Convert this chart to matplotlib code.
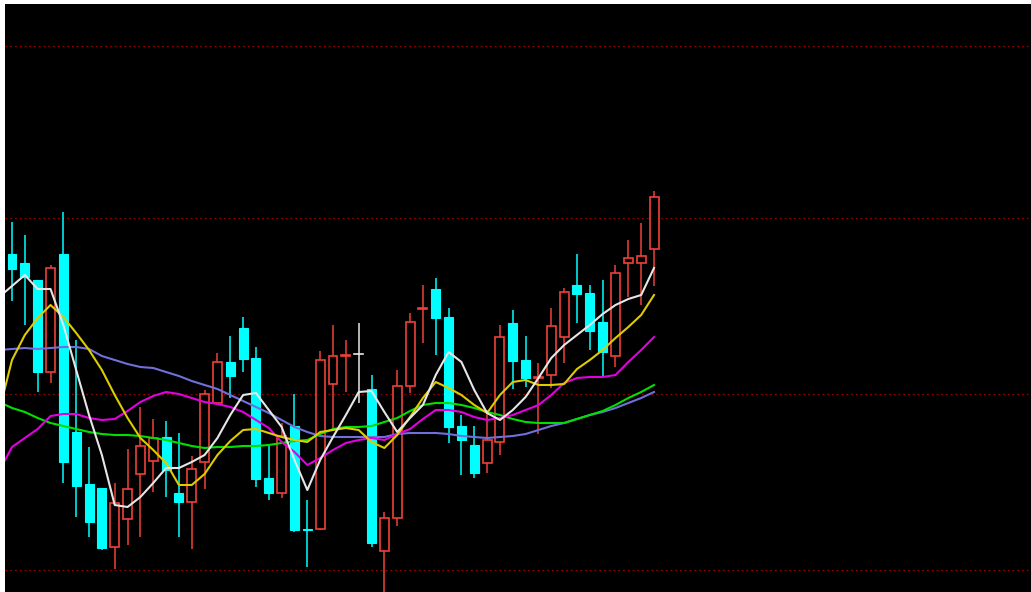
import matplotlib
matplotlib.use("Agg")
import matplotlib.pyplot as plt
from matplotlib.patches import Rectangle
import numpy as np

# ---- candle data (price units) ----
opens = [34.6, 33.7, 32.0, 22.8, 34.6, 16.8, 11.6, 11.2, 5.3, 8.1,
         12.6, 13.9, 16.3, 10.7, 9.8, 13.8, 19.7, 23.8, 27.2, 24.2,
         12.2, 10.7, 17.4, 7.1, 7.1, 21.6, 24.45, 24.6, 21.1, 4.9,
         8.2, 21.4, 29.15, 31.1, 28.3, 17.4, 15.5, 13.7, 15.8, 27.7,
         24.0, 22.25, 22.5, 26.3, 31.5, 30.7, 27.8, 24.4, 33.7, 33.7, 35.1]
closes = [33.1, 32.3, 22.8, 33.2, 13.8, 11.4, 7.8, 5.2, 9.7, 11.1,
          15.4, 16.2, 13.0, 9.8, 13.1, 20.6, 23.8, 22.4, 24.1, 12.1,
          10.7, 16.4, 7.0, 7.0, 24.0, 24.4, 24.55, 24.6, 5.7, 8.2,
          21.4, 27.8, 29.25, 28.2, 17.3, 16.0, 12.7, 16.0, 26.3, 23.9,
          22.2, 22.35, 27.4, 30.8, 30.6, 26.9, 24.8, 32.7, 34.2, 34.4, 40.3]
highs = [37.8, 36.5, 32.0, 33.5, 38.8, 26.0, 15.3, 11.2, 11.7, 15.1,
         19.3, 18.1, 17.9, 16.7, 14.4, 21.0, 24.7, 26.4, 28.3, 25.3,
         15.6, 17.7, 20.6, 10.0, 24.9, 27.5, 26.0, 27.7, 22.5, 8.8,
         23.0, 28.7, 31.5, 32.2, 29.2, 18.5, 17.4, 19.0, 27.5, 29.0,
         26.4, 23.7, 29.2, 31.2, 34.6, 31.5, 32.0, 33.5, 36.0, 37.7, 40.9]
lows = [29.9, 27.5, 20.8, 21.7, 11.7, 8.3, 6.3, 5.0, 3.1, 5.5,
        6.3, 10.8, 10.3, 6.3, 5.1, 11.1, 19.7, 20.2, 22.8, 11.3,
        10.0, 10.2, 6.8, 3.3, 7.0, 17.0, 20.8, 19.7, 5.3, 0.5,
        7.4, 20.7, 25.7, 24.5, 15.7, 12.5, 12.2, 12.7, 14.5, 21.1,
        21.3, 16.6, 21.2, 23.7, 27.7, 25.0, 22.4, 23.3, 30.3, 29.5, 31.4]

# ---- moving averages (first value lies just left of the visible area) ----
ma5 = [30.3, 31.4, 32.5, 31.1, 31.1, 27.5, 23.0, 18.5, 14.5, 9.5, 9.3,
       10.3, 11.7, 13.2, 13.2, 13.8, 14.5, 16.2, 18.5, 20.5, 20.7,
       19.0, 17.3, 14.0, 11.0, 14.0, 16.3, 18.5, 20.8, 20.9, 18.8,
       16.8, 18.2, 19.5, 22.5, 24.8, 23.8, 21.0, 18.7, 18.0, 19.0,
       20.3, 22.2, 24.2, 25.5, 26.5, 27.5, 28.6, 29.5, 30.1, 30.5, 33.2]
ma10 = [18.9, 24.0, 26.5, 28.2, 29.5, 28.3, 26.7, 25.0, 23.0, 20.5, 18.2,
        16.2, 15.0, 13.7, 11.5, 11.5, 12.6, 14.5, 15.9, 17.0, 17.1,
        16.7, 16.3, 16.0, 15.8, 16.8, 17.0, 17.2, 17.0, 15.8, 15.2,
        16.5, 18.3, 20.2, 21.8, 21.2, 20.5, 19.5, 18.7, 20.5, 21.8,
        22.0, 21.5, 21.5, 21.6, 23.1, 24.0, 25.0, 26.2, 27.3, 28.5, 30.5]
ma20 = [12.9, 15.3, 16.2, 17.1, 18.4, 18.6, 18.6, 18.2, 18.0, 18.1, 18.9,
        19.8, 20.4, 20.8, 20.6, 20.2, 19.8, 19.6, 19.3, 18.8, 18.0,
        17.2, 15.8, 14.8, 13.5, 14.2, 15.0, 15.7, 16.0, 16.2, 16.0,
        16.6, 17.1, 18.1, 19.0, 19.0, 18.8, 18.3, 18.0, 18.2, 18.5,
        19.0, 19.5, 20.5, 21.7, 22.2, 22.3, 22.3, 22.5, 23.8, 25.0, 26.3]
ma30 = [19.8, 19.2, 18.8, 18.2, 17.7, 17.4, 17.1, 16.8, 16.6, 16.5, 16.5,
        16.4, 16.2, 16.0, 15.7, 15.4, 15.2, 15.3, 15.3, 15.4, 15.4,
        15.5, 15.7, 15.9, 16.0, 16.6, 17.1, 17.3, 17.3, 17.4, 17.8,
        18.2, 18.9, 19.5, 19.7, 19.7, 19.5, 19.2, 18.8, 18.5, 18.1,
        17.8, 17.7, 17.7, 17.7, 18.1, 18.5, 18.9, 19.5, 20.2, 20.8, 21.5]
ma60 = [25.0, 25.1, 25.2, 25.1, 25.2, 25.3, 25.3, 25.1, 24.4, 24.0, 23.6,
        23.3, 23.2, 22.8, 22.4, 21.9, 21.5, 21.1, 20.5, 19.9, 19.3,
        18.7, 18.0, 17.3, 16.8, 16.4, 16.3, 16.3, 16.3, 16.3, 16.3,
        16.6, 16.7, 16.7, 16.7, 16.6, 16.4, 16.3, 16.2, 16.3, 16.4,
        16.6, 17.0, 17.4, 17.7, 18.1, 18.5, 18.8, 19.2, 19.7, 20.2, 20.8]

grid_levels = [3.0, 20.6, 38.2, 55.4]

UP = '#EE4038'
DOWN = '#00FFFF'
FLAT = '#E8E8E8'

fig = plt.figure(figsize=(10.31, 5.92), dpi=100, facecolor='white')
ax = fig.add_axes([5 / 1031, 0, 1026 / 1031, 588 / 592])
ax.set_facecolor('black')
for s in ax.spines.values():
    s.set_visible(False)
ax.set_xticks([])
ax.set_yticks([])

for lv in grid_levels:
    ax.axhline(lv, color='#9A0000', lw=0.9, dashes=(1.4, 2.4), zorder=1)

w = 0.70
n = len(opens)
for i in range(n):
    o, c, h, l = opens[i], closes[i], highs[i], lows[i]
    if c > o:
        top, bot = c, o
        ax.plot([i, i], [top, h], color=UP, lw=1.1, zorder=3, solid_capstyle='butt')
        ax.plot([i, i], [l, bot], color=UP, lw=1.1, zorder=3, solid_capstyle='butt')
        ax.add_patch(Rectangle((i - w / 2, bot), w, top - bot, facecolor='black',
                               edgecolor=UP, lw=1.2, zorder=3))
    elif c < o:
        ax.plot([i, i], [l, h], color=DOWN, lw=1.1, zorder=3, solid_capstyle='butt')
        ax.add_patch(Rectangle((i - w / 2, c), w, o - c, facecolor=DOWN,
                               edgecolor=DOWN, lw=0.8, zorder=3))
    else:
        ax.plot([i, i], [l, h], color=FLAT, lw=1.1, zorder=3, solid_capstyle='butt')
        ax.plot([i - w / 2, i + w / 2], [o, o], color=FLAT, lw=1.2, zorder=3)

xs = np.arange(-1, n)
ax.plot(xs, ma60, color='#7070DC', lw=1.5, zorder=4)
ax.plot(xs, ma30, color='#00E000', lw=1.5, zorder=4)
ax.plot(xs, ma20, color='#E000E0', lw=1.5, zorder=4)
ax.plot(xs, ma10, color='#DCCC00', lw=1.5, zorder=4)
ax.plot(xs, ma5, color='#E6E6E6', lw=1.5, zorder=5)

ax.set_xlim(-0.545, 79.36)
ax.set_ylim(0.8, 59.6)

fig.savefig('out.png', dpi=100, facecolor='white')
